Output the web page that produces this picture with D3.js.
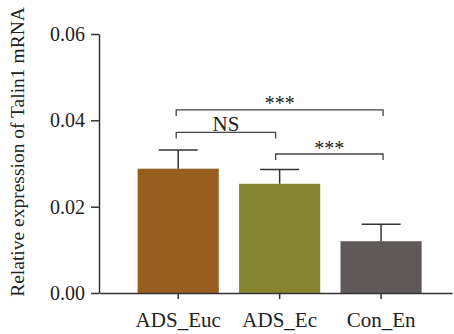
<!DOCTYPE html>
<html>
<head>
<meta charset="utf-8">
<script src="https://cdn.jsdelivr.net/npm/d3@7"></script>
<style>
  body { margin: 0; background: #fff; }
  text { font-family: "Liberation Serif", "DejaVu Serif", serif; fill: #222; }
</style>
</head>
<body>
<svg id="chart" width="454" height="334"></svg>
<script>
var groups = ["ADS_Euc", "ADS_Ec", "Con_En"];
var means = [0.0288, 0.0253, 0.0120];
var errors = [0.0043, 0.0033, 0.0039];
var barColors = ["#985e20", "#85852f", "#5f5a59"];
var yTicks = [0.00, 0.02, 0.04, 0.06];
// comparisons: [from, to, label, level]
var comparisons = [
    ["ADS_Euc", "Con_En", "***", 0.0424],
    ["ADS_Euc", "ADS_Ec", "NS", 0.0372],
    ["ADS_Ec", "Con_En", "***", 0.0322]
];

var svg = d3.select("#chart");
var plotLeft = 99, plotRight = 452, plotTop = 34, plotBottom = 293;

var x = d3.scaleBand()
    .domain(groups)
    .range([plotLeft, plotRight])
    .paddingInner(0.2)
    .paddingOuter(0.34)
    .align(0.56);

var y = d3.scaleLinear()
    .domain([0, 0.06])
    .range([plotBottom, plotTop]);

var g = svg.append("g");

// bars
g.selectAll(".bar")
    .data(groups)
    .enter().append("rect")
    .attr("class", "bar")
    .attr("x", function(d) { return x(d); })
    .attr("y", function(d, i) { return y(means[i]); })
    .attr("width", x.bandwidth())
    .attr("height", function(d, i) { return y(0) - y(means[i]); })
    .attr("fill", function(d, i) { return barColors[i]; });

// error bars
var capW = x.bandwidth() * 0.48;
groups.forEach(function(d, i) {
    var cx = x(d) + x.bandwidth() / 2;
    g.append("line")
        .attr("x1", cx).attr("x2", cx)
        .attr("y1", y(means[i])).attr("y2", y(means[i] + errors[i]))
        .attr("stroke", "#333").attr("stroke-width", 1.5);
    g.append("line")
        .attr("x1", cx - capW / 2).attr("x2", cx + capW / 2)
        .attr("y1", y(means[i] + errors[i])).attr("y2", y(means[i] + errors[i]))
        .attr("stroke", "#333").attr("stroke-width", 1.5);
});

// axes
var yAxis = g.append("g")
    .attr("transform", "translate(" + plotLeft + ",0)")
    .call(d3.axisLeft(y).tickValues(yTicks).tickFormat(d3.format(".2f")).tickSize(8).tickPadding(6).tickSizeOuter(0));

var xAxis = g.append("g")
    .attr("transform", "translate(0," + plotBottom + ")")
    .call(d3.axisBottom(x).tickSize(6).tickPadding(13).tickSizeOuter(0));

[yAxis, xAxis].forEach(function(a) {
    a.attr("font-family", null);
    a.select(".domain").attr("stroke", "#333").attr("stroke-width", 1.5);
    a.selectAll(".tick line").attr("stroke", "#333").attr("stroke-width", 1.5);
    a.selectAll(".tick text")
        .style("font-family", "'Liberation Serif', serif")
        .attr("fill", "#222");
});
yAxis.selectAll(".tick text").attr("font-size", 20);
xAxis.selectAll(".tick text").attr("font-size", 21);

// y label
svg.append("text")
    .attr("transform", "translate(24,152) rotate(-90)")
    .attr("text-anchor", "middle")
    .attr("font-size", 19.5)
    .text("Relative expression of Talin1 mRNA");

// significance brackets
comparisons.forEach(function(c) {
    var x1 = x(c[0]) + x.bandwidth() / 2 - 2;
    var x2 = x(c[1]) + x.bandwidth() / 2 + (c[1] === "ADS_Ec" ? -4 : 2);
    if (c[0] === "ADS_Ec") x1 = x(c[0]) + x.bandwidth() / 2 - 4;
    var yy = y(c[3]);
    g.append("path")
        .attr("d", "M" + x1 + "," + (yy + 6) + "V" + yy + "H" + x2 + "V" + (yy + 6))
        .attr("fill", "none")
        .attr("stroke", "#444")
        .attr("stroke-width", 1.3);
    var lbl = g.append("text")
        .attr("x", (x1 + x2) / 2)
        .attr("text-anchor", "middle")
        .text(c[2]);
    if (c[2] === "NS") {
        lbl.attr("y", yy - 1.5).attr("font-size", 21);
    } else {
        lbl.attr("y", yy + 0.5).attr("font-size", 20).attr("fill", "#555");
    }
});
</script>
</body>
</html>
